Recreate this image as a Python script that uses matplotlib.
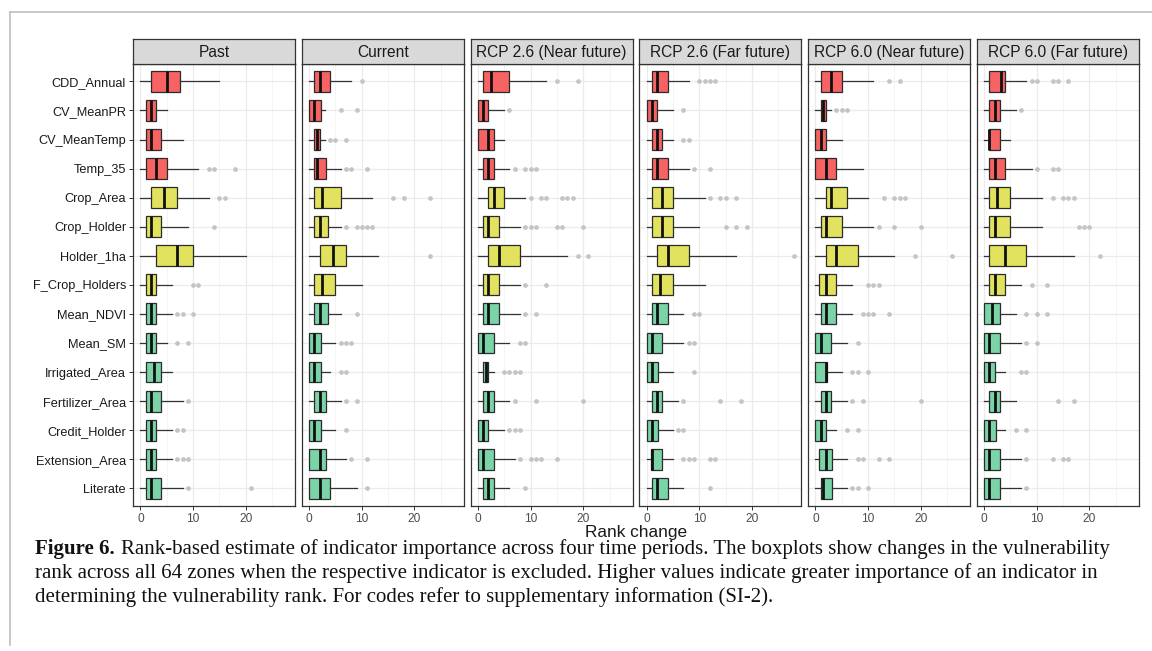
import matplotlib
matplotlib.use("Agg")
import matplotlib.pyplot as plt
from matplotlib.lines import Line2D
from matplotlib.ticker import FixedLocator

# ---------------- data ----------------
indicators = ["CDD_Annual", "CV_MeanPR", "CV_MeanTemp", "Temp_35", "Crop_Area",
              "Crop_Holder", "Holder_1ha", "F_Crop_Holders", "Mean_NDVI", "Mean_SM",
              "Irrigated_Area", "Fertilizer_Area", "Credit_Holder", "Extension_Area",
              "Literate"]
groups = ["climate"] * 4 + ["crop"] * 4 + ["support"] * 7
periods = ["Past", "Current", "RCP 2.6 (Near future)", "RCP 2.6 (Far future)",
           "RCP 6.0 (Near future)", "RCP 6.0 (Far future)"]
x_ticks = [0, 10, 20]

past_lo = [0] * 15
past_q1 = [2, 1, 1, 1, 2, 1, 3, 1, 1, 1, 1, 1, 1, 1, 1]
past_med = [5, 2, 2, 3, 4.5, 2, 7, 2, 2, 2, 2.5, 2, 2, 2, 2]
past_q3 = [7.5, 3, 4, 5, 7, 4, 10, 3, 3, 3, 4, 4, 3, 3, 4]
past_hi = [15, 5, 8, 11, 13, 9, 20, 6, 6, 5, 6, 8, 6, 6, 8]
past_out = [[], [], [], [13, 14, 18], [15, 16], [14], [], [10, 11], [7, 8, 10], [7, 9],
            [], [9], [7, 8], [7, 8, 9], [9, 21]]

cur_lo = [0] * 15
cur_q1 = [1, 0, 1, 1, 1, 1, 2, 1, 1, 0, 0, 1, 0, 0, 0]
cur_med = [2, 1, 1.5, 1.5, 2.5, 2, 4.5, 2.5, 2, 1, 1, 2, 1, 2, 2]
cur_q3 = [4, 2.25, 2, 3.25, 6, 3.5, 7, 5, 3.5, 2.25, 2.25, 3.25, 2.25, 3.25, 4]
cur_hi = [8, 3, 3, 6, 12, 6, 13, 10, 6, 5, 4, 6, 5, 7, 9]
cur_out = [[10], [6, 9], [4, 5, 7], [7, 8, 11], [16, 18, 23], [7, 9, 10, 11, 12], [23],
           [], [9], [6, 7, 8], [6, 7], [7, 9], [7], [8, 11], [11]]

r26n_lo = [0] * 15
r26n_q1 = [1, 0, 0, 1, 2, 1, 2, 1, 1, 0, 1, 1, 0, 0, 1]
r26n_med = [2.5, 1, 2, 2, 3, 2, 4, 2, 2, 1, 1.5, 2, 1, 1, 2]
r26n_q3 = [6, 2, 3, 3, 5, 4, 8, 4, 4, 3, 2, 3, 2, 3, 3]
r26n_hi = [13, 5, 5, 6, 9, 8, 17, 8, 8, 6, 3, 6, 5, 7, 6]
r26n_out = [[15, 19], [6], [], [7, 9, 10, 11], [10, 12, 13, 16, 17, 18],
            [9, 10, 11, 15, 16, 20], [19, 21], [9, 13], [9, 11], [8, 9], [5, 6, 7, 8],
            [7, 11, 20], [6, 7, 8], [8, 10, 11, 12, 15], [9]]

r26f_lo = [0] * 15
r26f_q1 = [1, 0, 1, 1, 1, 1, 2, 1, 1, 0, 0, 1, 0, 0.75, 1]
r26f_med = [2, 1, 2, 2, 3, 3, 4, 2.5, 2, 1, 1, 2, 1, 1, 2]
r26f_q3 = [4, 2, 3, 4, 5, 5, 8, 5, 4, 3, 2.25, 3, 2.25, 3, 4]
r26f_hi = [8, 5, 5, 8, 11, 10, 17, 11, 7, 7, 5, 6, 5, 5, 7]
r26f_out = [[10, 11, 12, 13], [7], [7, 8], [9, 12], [12, 14, 15, 17], [15, 17, 19], [28],
            [], [9, 10], [8, 9], [9], [7, 14, 18], [6, 7], [7, 8, 9, 12, 13], [12]]

r60n_lo = [0] * 15
r60n_q1 = [1, 1, 0, 0, 2, 1, 2, 0.75, 1, 0, 0, 1, 0, 0.75, 1]
r60n_med = [3, 1.5, 1, 2, 3, 2, 4, 2, 2, 1, 2, 2, 1, 2, 1.5]
r60n_q3 = [5, 2, 2, 4, 6, 5, 8, 4, 4, 3, 2.25, 3, 2, 3.25, 3.25]
r60n_hi = [11, 3, 5, 9, 10, 11, 15, 7, 7, 6, 5, 6, 4, 6, 6]
r60n_out = [[14, 16], [4, 5, 6], [], [], [13, 15, 16, 17], [12, 15, 20], [19, 26],
            [10, 11, 12], [9, 10, 11, 14], [8], [7, 8, 10], [7, 9, 20], [6, 8],
            [8, 9, 12, 14], [7, 8, 10]]

r60f_lo = [0] * 15
r60f_q1 = [1, 1, 1, 1, 1, 1, 1, 1, 0, 0, 0, 1, 0, 0, 0]
r60f_med = [3.25, 2, 1, 2, 2.5, 2, 4, 2, 1.5, 1, 1, 2, 1, 1, 1]
r60f_q3 = [4, 3, 3, 4, 5, 5, 8, 4, 3, 3, 2, 3, 2.25, 3, 3]
r60f_hi = [8, 6, 5, 9, 11, 11, 17, 7, 6, 7, 4, 6, 4, 7, 7]
r60f_out = [[9, 10, 13, 14, 16], [7], [], [10, 13, 14], [13, 15, 16, 17], [18, 19, 20],
            [22], [9, 12], [8, 10, 12], [8, 10], [7, 8], [14, 17], [6, 8], [8, 13, 15, 16],
            [8]]

panel_data = [
    (past_lo, past_q1, past_med, past_q3, past_hi, past_out),
    (cur_lo, cur_q1, cur_med, cur_q3, cur_hi, cur_out),
    (r26n_lo, r26n_q1, r26n_med, r26n_q3, r26n_hi, r26n_out),
    (r26f_lo, r26f_q1, r26f_med, r26f_q3, r26f_hi, r26f_out),
    (r60n_lo, r60n_q1, r60n_med, r60n_q3, r60n_hi, r60n_out),
    (r60f_lo, r60f_q1, r60f_med, r60f_q3, r60f_hi, r60f_out),
]

group_colors = {"climate": "#F76262", "crop": "#E2E25E", "support": "#7BD4A8"}

# ---------------- layout ----------------
W, H = 1152, 651
fig = plt.figure(figsize=(W / 100, H / 100), dpi=100)
fig.patch.set_facecolor("white")
plt.rcParams["font.family"] = ["Liberation Sans", "DejaVu Sans"]

panel_left0 = 133
panel_w = 162.2
panel_gap = 6.55
panel_top = 64
panel_bot = 505.7
strip_top = 39

def fx(px):
    return px / W

def fy(py):
    return 1 - py / H

positions = list(range(1, len(indicators) + 1))

for p, (title, data) in enumerate(zip(periods, panel_data)):
    lo, q1, med, q3, hi, out = data
    left = panel_left0 + p * (panel_w + panel_gap)
    ax = fig.add_axes([fx(left), fy(panel_bot), panel_w / W, (panel_bot - panel_top) / H])
    ax.set_facecolor("white")
    stats = [dict(whislo=lo[i], q1=q1[i], med=med[i], q3=q3[i], whishi=hi[i],
                  fliers=out[i]) for i in range(len(indicators))]
    bp = ax.bxp(stats, positions=positions, orientation="horizontal", widths=0.72,
                patch_artist=True, showcaps=False,
                boxprops=dict(edgecolor="#2B2B2B", linewidth=0.9),
                whiskerprops=dict(color="#333333", linewidth=0.9),
                medianprops=dict(color="#111111", linewidth=2.0, solid_capstyle="butt"),
                flierprops=dict(marker="o", markerfacecolor="#C4C4C4",
                                markeredgecolor="none", markersize=3.4))
    for patch, g in zip(bp["boxes"], groups):
        patch.set_facecolor(group_colors[g])
    for b in bp["boxes"] + bp["whiskers"] + bp["medians"]:
        b.set_zorder(3)
    ax.set_xlim(-1.4, 29.4)
    ax.set_ylim(len(indicators) + 0.6, 0.4)
    ax.xaxis.set_major_locator(FixedLocator(x_ticks))
    ax.xaxis.set_minor_locator(FixedLocator([5, 15, 25]))
    ax.set_xticks(x_ticks)
    ax.set_xticklabels([str(t) for t in x_ticks])
    ax.grid(True, which="major", color="#EBEBEB", linewidth=0.9, zorder=0)
    ax.grid(True, which="minor", axis="x", color="#F3F3F3", linewidth=0.6, zorder=0)
    ax.set_axisbelow(True)
    ax.tick_params(axis="x", which="major", length=3, width=0.7, color="#333333",
                   labelsize=8.6, labelcolor="#4D4D4D", pad=2)
    ax.tick_params(axis="x", which="minor", length=0)
    ax.set_yticks(positions)
    if p == 0:
        ax.set_yticklabels(indicators)
        ax.tick_params(axis="y", length=3, width=0.7, color="#333333", labelsize=9.2,
                       labelcolor="#1A1A1A", pad=2)
    else:
        ax.set_yticklabels([])
        ax.tick_params(axis="y", length=0)
    for s in ax.spines.values():
        s.set_color("#333333")
        s.set_linewidth(0.9)
    # strip
    sax = fig.add_axes([fx(left), fy(panel_top), panel_w / W, (panel_top - strip_top) / H])
    sax.set_facecolor("#D9D9D9")
    sax.set_xticks([])
    sax.set_yticks([])
    for s in sax.spines.values():
        s.set_color("#333333")
        s.set_linewidth(0.9)
    sax.text(0.5, 0.46, title, ha="center", va="center", fontsize=11.2, color="#1A1A1A",
             transform=sax.transAxes)

# axis title
fig.text(fx(panel_left0 + (6 * panel_w + 5 * panel_gap) / 2), fy(532), "Rank change",
         ha="center", va="center", fontsize=12.4, color="#1A1A1A")

# frame lines of the figure box
fig.add_artist(Line2D([fx(10), fx(10)], [fy(12), fy(645)], color="#BDBDBD", linewidth=1.2))
fig.add_artist(Line2D([fx(10), fx(1152)], [fy(12), fy(12)], color="#BDBDBD", linewidth=1.2))

# caption
cap_font = ["Liberation Serif", "DejaVu Serif"]
cap_size = 15.0
cap_lines = [
    "Rank-based estimate of indicator importance across four time periods. The boxplots show changes in the vulnerability",
    "rank across all 64 zones when the respective indicator is excluded. Higher values indicate greater importance of an indicator in",
    "determining the vulnerability rank. For codes refer to supplementary information (SI-2).",
]
cap_y = [549, 573, 597]
x_cap = 35
bold = fig.text(fx(x_cap), fy(cap_y[0]), "Figure 6.", ha="left", va="center",
                fontsize=cap_size, fontweight="bold", family=cap_font, color="#111111")
fig.canvas.draw()
bb = bold.get_window_extent(renderer=fig.canvas.get_renderer())
fig.text(bb.x1 / W + 6 / W, fy(cap_y[0]), cap_lines[0], ha="left", va="center",
         fontsize=cap_size, family=cap_font, color="#111111")
for line, yy in zip(cap_lines[1:], cap_y[1:]):
    fig.text(fx(x_cap), fy(yy), line, ha="left", va="center", fontsize=cap_size,
             family=cap_font, color="#111111")

fig.savefig("out.png", dpi=100, facecolor="white")
